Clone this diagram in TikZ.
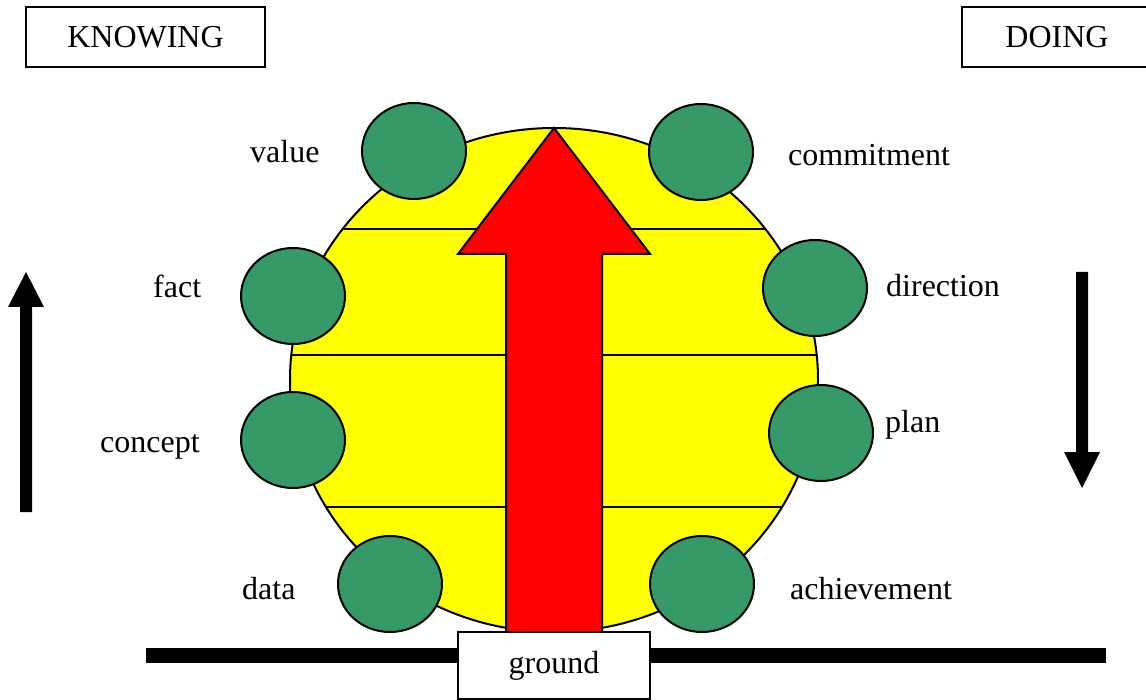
\documentclass[tikz,border=0pt]{standalone}
\usepackage{fontspec}
\setmainfont{Liberation Serif}
\usetikzlibrary{shapes.geometric}
\definecolor{beadgreen}{RGB}{53,153,104}
\definecolor{globeyellow}{RGB}{255,255,0}
\definecolor{arrowred}{RGB}{255,0,0}
\begin{document}
\begin{tikzpicture}[x=1pt,y=-1pt,
  txt/.style={font=\fontsize{32}{38}\selectfont},
  lbl/.style={txt, inner sep=0pt, anchor=base west},
  framebox/.style={txt, draw, line width=1.5pt, fill=white, inner sep=0pt},
  bead/.style={ellipse, draw, line width=2pt, fill=beadgreen, inner sep=0pt,
               minimum width=104pt, minimum height=96pt},
  chord/.style={line width=1.6pt},
  bigarrow/.style={draw, line width=2pt, fill=arrowred, line join=miter},
  sidearrow/.style={fill=black}
]
\useasboundingbox (0,0) rectangle (1146,700);
\clip (0,0) rectangle (1146,700);

% the globe with its layers
\node[ellipse, draw, line width=2pt, fill=globeyellow, inner sep=0pt,
      minimum width=528pt, minimum height=504pt] (globe) at (554,380) {};
\draw[chord] (343,229) -- (765,229);
\draw[chord] (291,355) -- (817,355);
\draw[chord] (326,507) -- (782,507);

% upward arrow through the globe
\draw[bigarrow] (554,128) -- (650,254) -- (602,254) -- (602,632)
  -- (506,632) -- (506,254) -- (458,254) -- cycle;

% beads on the left side
\node[bead] (value)   at (414,151) {};
\node[bead] (fact)    at (293,296) {};
\node[bead] (concept) at (293,440) {};
\node[bead] (data)    at (390,584) {};
% beads on the right side
\node[bead] (commit)  at (701,152) {};
\node[bead] (direct)  at (815,288) {};
\node[bead] (plan)    at (821,433) {};
\node[bead] (achieve) at (702,584) {};

% labels
\node[lbl] (tvalue)   at (250,163) {value};
\node[lbl] (tfact)    at (153,298) {fact};
\node[lbl] (tconcept) at (100,452) {concept};
\node[lbl] (tdata)    at (242,599) {data};
\node[lbl] (tcommit)  at (788,166) {commitment};
\node[lbl] (tdirect)  at (886,297) {direction};
\node[lbl] (tplan)    at (885,432) {plan};
\node[lbl] (tachieve) at (790,599) {achievement};

% the ground
\fill[black] (146,648) rectangle (1106,663);
\node[framebox, minimum width=192pt, minimum height=67pt] (ground) at (554,665.5) {ground};

% headings
\node[framebox, minimum width=239pt, minimum height=60pt] (knowing) at (145.5,37) {KNOWING};
\node[framebox, minimum width=190pt, minimum height=60pt] (doing) at (1057,37) {DOING};

% side arrows
\fill[sidearrow] (26,272) -- (44,307) -- (32,307) -- (32,512) -- (20,512)
  -- (20,307) -- (8,307) -- cycle;
\fill[sidearrow] (1076,272) -- (1088,272) -- (1088,452) -- (1100,452)
  -- (1082,488) -- (1064,452) -- (1076,452) -- cycle;
\end{tikzpicture}
\end{document}
